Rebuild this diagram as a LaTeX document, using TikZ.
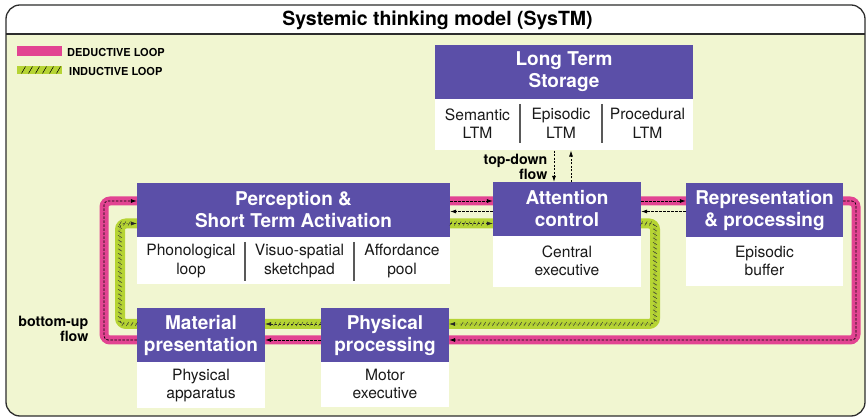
\documentclass[tikz,border=0pt]{standalone}
\usepackage{fontspec}
\setmainfont{TeX Gyre Heros}
\usetikzlibrary{arrows.meta,decorations.markings,calc}
\definecolor{sysPurple}{RGB}{91,79,168}
\definecolor{sysPink}{RGB}{226,68,146}
\definecolor{sysGreen}{RGB}{182,212,52}
\definecolor{sysBg}{RGB}{241,246,209}
\definecolor{sysFrame}{RGB}{45,45,45}
\begin{document}
\begin{tikzpicture}[x=1pt,y=-1pt,
  hdr/.style={fill=sysPurple, text=white, font=\fontsize{19}{22}\selectfont\bfseries, align=center, inner sep=0pt, minimum height=54pt, minimum width=#1},
  bodybox/.style={fill=white, inner sep=0pt, anchor=north, minimum width=#1},
  celltxt/.style={font=\fontsize{15.6}{18.5}\selectfont, align=center, inner sep=0pt, text=black!90},
  divider/.style={draw=black!65, line width=1.1pt},
  flowlbl/.style={font=\fontsize{14.2}{15}\selectfont\bfseries, align=right, inner sep=0pt, anchor=east},
  legendlbl/.style={font=\fontsize{11}{12}\selectfont\bfseries, inner sep=0pt, anchor=west},
  pinkband/.style={draw=sysPink, line width=9pt, rounded corners=6pt},
  greenband/.style={draw=sysGreen, line width=10pt, rounded corners=6pt},
  tipstyle/.style={-{Latex[length=6pt,width=4pt]}},
  dedarrow/.style={draw=black, line width=0.7pt, dash pattern=on 2.5pt off 1.5pt, tipstyle, rounded corners=4pt},
  tdarrow/.style={draw=black, line width=0.7pt, dash pattern=on 2pt off 1.5pt, tipstyle},
  indarrow/.style={draw=black!85, line width=0.45pt, dash pattern=on 2pt off 2pt, tipstyle, rounded corners=4pt},
  hatch/.style={postaction={decorate},
    decoration={markings, mark=between positions 0.02 and 0.98 step 4.5pt with {\draw[solid, black!80, line width=0.45pt] (-1.2pt,-2pt) -- (1.2pt,2pt);}}}
]
\useasboundingbox (0,0) rectangle (867,419);

% frame
\fill[sysBg, rounded corners=14pt] (6,5) rectangle (865,416);
\begin{scope}
  \clip (0,0) rectangle (867,34);
  \fill[white, rounded corners=14pt] (6,5) rectangle (865,416);
\end{scope}
\draw[sysFrame, line width=1.1pt] (6,34) -- (865,34);
\draw[sysFrame, line width=1.3pt, rounded corners=14pt] (6,5) rectangle (865,416);

\node[font=\fontsize{19.5}{22}\selectfont\bfseries, inner sep=0pt] (title) at (437.5,20.5) {Systemic thinking model (SysTM)};

% legend
\node[fill=sysPink, minimum width=45pt, minimum height=10pt, inner sep=0pt] (legd) at (39.5,51) {};
\node[legendlbl] (legdt) at (67,52) {DEDUCTIVE LOOP};
\node[fill=sysGreen, minimum width=45pt, minimum height=8pt, inner sep=0pt] (legi) at (39.5,70) {};
\foreach \k in {0,...,5} {\draw[black, line width=0.5pt] (21.5+7*\k,73.5) -- (25.5+7*\k,66.5);}
\node[legendlbl] (legit) at (69,71) {INDUCTIVE LOOP};

% loop corner coordinates
\coordinate (dTL) at (104,201);
\coordinate (dTR) at (856,201);
\coordinate (dBR) at (856,340);
\coordinate (dBL) at (104,340);
\coordinate (iTL) at (120,223.5);
\coordinate (iTR) at (655,223.5);
\coordinate (iBR) at (655,324);
\coordinate (iBL) at (120,324);
\coordinate (rY) at (0,211.5);

% bands
\draw[pinkband] (dTL) -- (dTR) -- (dBR) -- (dBL) -- cycle;
\draw[greenband] (iTL) -- (iTR) -- (iBR) -- (iBL) -- cycle;

% Long term storage
\node[hdr=258pt] (ltm) at (564,72) {Long Term\\Storage};
\node[bodybox=258pt, minimum height=51pt] (ltmb) at (ltm.south) {};
\node[celltxt] (sem) at (477.5,123.5) {Semantic\\LTM};
\node[celltxt] (epi) at (561,123.5) {Episodic\\LTM};
\node[celltxt] (pro) at (647.5,123.5) {Procedural\\LTM};
\draw[divider] (520,104) -- (520,143);
\draw[divider] (602,104) -- (602,143);

% Perception
\node[hdr=313pt] (perc) at (293.5,210) {Perception \&\\Short Term Activation};
\node[bodybox=313pt, minimum height=47pt] (percb) at (perc.south) {};
\node[celltxt] (phon) at (191,261) {Phonological\\loop};
\node[celltxt] (visu) at (299.5,261) {Visuo-spatial\\sketchpad};
\node[celltxt] (aff) at (402,261) {Affordance\\pool};
\draw[divider] (245,242) -- (245,281);
\draw[divider] (354,242) -- (354,281);

% Attention control
\node[hdr=148pt] (att) at (567,209) {Attention\\control};
\node[bodybox=148pt, minimum height=51pt] (attb) at (att.south) {};
\node[celltxt] (cen) at (att.south |- 0,261) {Central\\executive};

% Representation
\node[hdr=157pt] (rep) at (764.5,210) {Representation\\\& processing};
\node[bodybox=157pt, minimum height=49pt] (repb) at (rep.south) {};
\node[celltxt] (epb) at (rep.south |- 0,261) {Episodic\\buffer};

% Material presentation
\node[hdr=128pt] (mat) at (201,335) {Material\\presentation};
\node[bodybox=128pt, minimum height=46pt] (matb) at (mat.south) {};
\node[celltxt] (app) at (mat.south |- 0,385.5) {Physical\\apparatus};

% Physical processing
\node[hdr=128pt] (phys) at (385,335) {Physical\\processing};
\node[bodybox=128pt, minimum height=45pt] (physb) at (phys.south) {};
\node[celltxt] (mot) at (phys.south |- 0,384) {Motor\\executive};

% deductive loop arrows
\draw[dedarrow] (mat.west |- dBL) -- (dBL) -- (dTL) -- (perc.west |- dTL);
\draw[dedarrow] (perc.east |- dTL) -- (att.west |- dTL);
\draw[dedarrow] (att.east |- dTL) -- (rep.west |- dTL);
\draw[dedarrow] (rep.east |- dTL) -- (dTR) -- (dBR) -- (phys.east |- dBR);
\draw[dedarrow] (phys.west |- dBR) -- (mat.east |- dBR);

% return arrows
\draw[dedarrow] (att.west |- rY) -- (perc.east |- rY);
\draw[dedarrow] (rep.west |- rY) -- (att.east |- rY);

% inductive loop arrows
\draw[indarrow] (mat.west |- iBL) -- (iBL) -- (iTL) -- (perc.west |- iTL);
\draw[indarrow] (perc.east |- iTL) -- (att.west |- iTL);
\draw[indarrow] (att.east |- iTR) -- (iTR) -- (iBR) -- (phys.east |- iBR);
\draw[indarrow] (phys.west |- iBR) -- (mat.east |- iBR);
% hatch marks on the inductive loop
\path[hatch] (mat.west |- iBL) -- (iBL);
\path[hatch] (iBL) -- (iTL);
\path[hatch] (iTL) -- ([xshift=-7pt]perc.west |- iTL);
\path[hatch] (perc.east |- iTL) -- ([xshift=-7pt]att.west |- iTL);
\path[hatch] (att.east |- iTR) -- (iTR);
\path[hatch] (iTR) -- (iBR);
\path[hatch] (iBR) -- ([xshift=7pt]phys.east |- iBR);
\path[hatch] (phys.west |- iBR) -- ([xshift=7pt]mat.east |- iBR);

% top-down flow
\coordinate (tdA) at ([xshift=-13pt]att.north);
\coordinate (tdB) at ([xshift=4pt]att.north);
\draw[tdarrow] (tdA |- ltmb.south) -- (tdA);
\draw[tdarrow] (tdB) -- (tdB |- ltmb.south);
\node[flowlbl] (tdl) at (547.5,167) {top-down\\flow};
\node[flowlbl] (bul) at (88.5,328.5) {bottom-up\\flow};
\end{tikzpicture}
\end{document}
